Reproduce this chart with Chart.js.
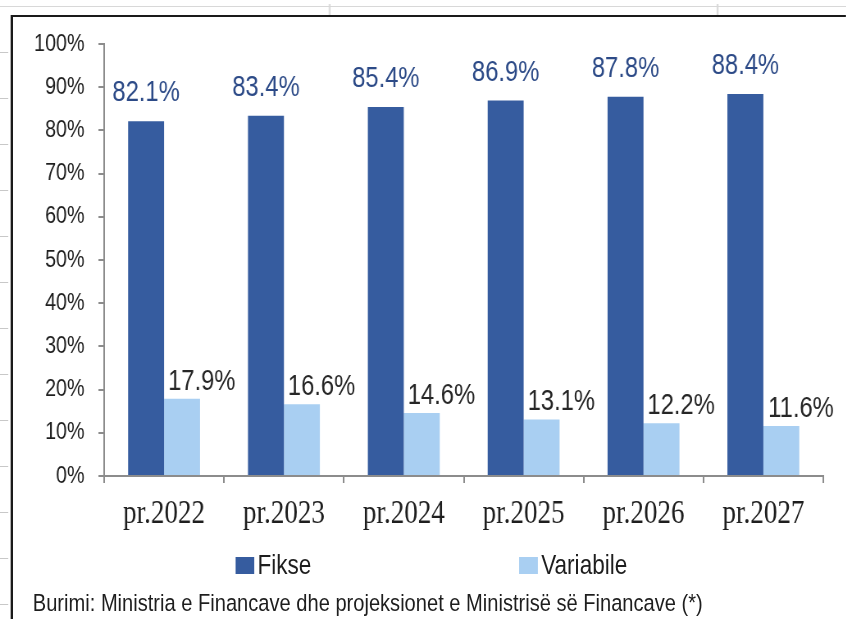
<!DOCTYPE html>
<html>
<head>
<meta charset="utf-8">
<script src="https://cdn.jsdelivr.net/npm/chart.js@4"></script>
<style>
  body { margin: 0; background: #fff; overflow: hidden; }
  /* the reference is horizontally condensed (narrow fonts), so draw wide and squeeze */
  #wrap { position: relative; width: 1032px; height: 619px; overflow: hidden; background: #fff;
          transform: scaleX(0.82); transform-origin: 0 0; }
  #chart { position: absolute; left: 0; top: 0; }
  .txt { font-family: "Liberation Sans", Arial, sans-serif; color: #1e1e1e; }
  .leg { position: absolute; top: 551px; font-size: 27.5px; line-height: 28px; white-space: nowrap; }
  .leg span { display: inline-block; width: 23px; height: 17px; vertical-align: 0px; margin-right: 4px; }
  #source { position: absolute; left: 40px; top: 589px; font-size: 24.5px; line-height: 28px; white-space: nowrap; }
  .frameL { position: absolute; left: 13px; top: 15px; width: 3px; height: 604px; background: #1a1a1a; }
  .frameT { position: absolute; left: 13px; top: 15px; width: 1019px; height: 2px; background: #1a1a1a; }
  .sheetT { position: absolute; left: 0; top: 6px; width: 1032px; height: 1px; background: #d8d8d8; }
  .sheetV { position: absolute; top: 4px; width: 2px; height: 11px; background: #d8d8d8; }
  .mark { position: absolute; left: 0; width: 10px; height: 1px; background: #c8c8c8; }
</style>
</head>
<body>
<div id="wrap">
  <canvas id="chart" width="1032" height="619"></canvas>
  <div class="sheetT"></div>
  <div class="sheetV" style="left:401px"></div>
  <div class="sheetV" style="left:874px"></div>
  <div class="frameT"></div>
  <div class="frameL"></div>
  <div id="marks"></div>
  <div id="legend"></div>
  <div id="source" class="txt">Burimi: Ministria e Financave dhe projeksionet e Ministrisë së Financave (*)</div>
</div>
<script>
const categories = ["pr.2022", "pr.2023", "pr.2024", "pr.2025", "pr.2026", "pr.2027"];
const fikse = [82.1, 83.4, 85.4, 86.9, 87.8, 88.4];
const variabile = [17.9, 16.6, 14.6, 13.1, 12.2, 11.6];
const seriesNames = ["Fikse", "Variabile"];
const seriesColors = ["#365C9F", "#A9CFF2"];
const labelColors = ["#2C4A87", "#262626"];

const sansFont = '"Liberation Sans", Arial, sans-serif';

// spreadsheet row marks on the left edge
const marks = document.getElementById("marks");
for (let y = 52; y < 619; y += 46) {
    const m = document.createElement("div");
    m.className = "mark";
    m.style.top = y + "px";
    marks.appendChild(m);
}

// legend
const legend = document.getElementById("legend");
const legendLeft = [287, 633];
seriesNames.forEach((name, i) => {
    const item = document.createElement("div");
    item.className = "leg txt";
    item.style.left = legendLeft[i] + "px";
    item.innerHTML = `<span style="background:${seriesColors[i]}"></span>${name}`;
    legend.appendChild(item);
});

const valueLabels = {
    id: "valueLabels",
    afterDatasetsDraw(chart) {
        const ctx = chart.ctx;
        ctx.save();
        ctx.textAlign = "center";
        ctx.textBaseline = "middle";
        ctx.font = "29px " + sansFont;
        chart.data.datasets.forEach((ds, di) => {
            const meta = chart.getDatasetMeta(di);
            ctx.fillStyle = labelColors[di];
            meta.data.forEach((bar, i) => {
                const txt = ds.data[i].toFixed(1) + "%";
                if (di === 0) ctx.fillText(txt, bar.x, bar.y - 28);
                else ctx.fillText(txt, bar.x + 24, bar.y - 17);
            });
        });
        ctx.restore();
    }
};

new Chart(document.getElementById("chart"), {
    type: "bar",
    data: {
        labels: categories,
        datasets: [
            { label: seriesNames[0], data: fikse, backgroundColor: seriesColors[0] },
            { label: seriesNames[1], data: variabile, backgroundColor: seriesColors[1] }
        ]
    },
    options: {
        responsive: false,
        animation: false,
        events: [],
        layout: { padding: { top: 44, right: 28, left: 0, bottom: 83 } },
        datasets: { bar: { categoryPercentage: 0.6, barPercentage: 1.0 } },
        plugins: {
            legend: { display: false },
            tooltip: { enabled: false }
        },
        scales: {
            x: {
                afterFit: s => { s.height = 60; },
                grid: { drawOnChartArea: false, drawTicks: true, tickLength: 7, color: "#8c8c8c", lineWidth: 2 },
                border: { display: true, color: "#8c8c8c", width: 2 },
                ticks: {
                    color: "#1e1e1e",
                    padding: 12,
                    font: { family: '"Liberation Serif", "Times New Roman", serif', size: 33 }
                }
            },
            y: {
                min: 0,
                max: 100,
                afterFit: s => { s.width = 127; },
                grid: { drawOnChartArea: false, drawTicks: true, tickLength: 7, color: "#8c8c8c", lineWidth: 2 },
                border: { display: true, color: "#8c8c8c", width: 2 },
                ticks: {
                    stepSize: 10,
                    color: "#1e1e1e",
                    padding: 17,
                    font: { family: sansFont, size: 24 },
                    callback: v => v + "%"
                }
            }
        }
    },
    plugins: [valueLabels]
});
</script>
</body>
</html>
